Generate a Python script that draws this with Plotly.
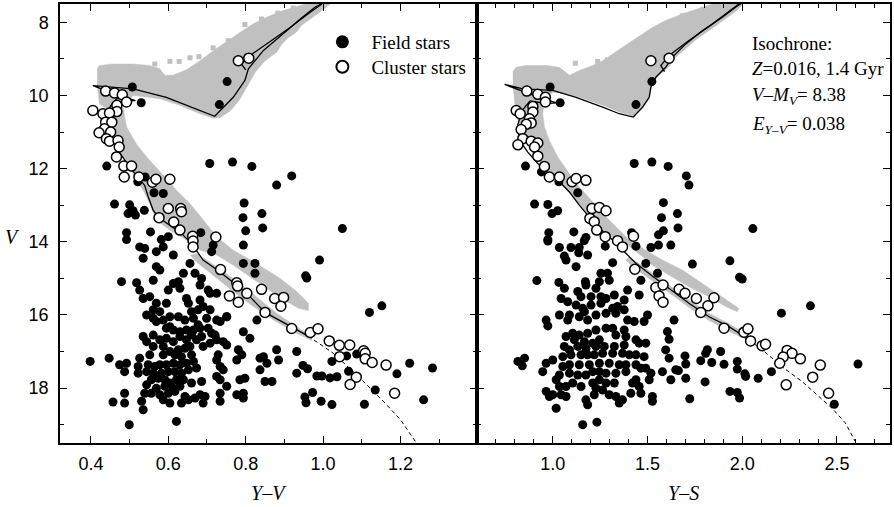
import plotly.graph_objects as go

# ---------------- LEFT PANEL: V vs (Y-V) ----------------
field_left = [
    (0.507, 9.77), (0.530, 10.20), (0.752, 9.62), (0.732, 10.25),
    (0.441, 11.93), (0.707, 11.86), (0.766, 11.82), (0.816, 11.94), (0.919, 12.20), (0.880, 12.45),
    (0.461, 12.97), (0.500, 12.99), (0.496, 13.23), (0.509, 13.15), (0.515, 13.27), (0.538, 13.14),
    (0.540, 12.23), (0.521, 12.36), (0.563, 12.66), (0.587, 12.68),
    (0.492, 13.75), (0.492, 13.94), (0.554, 13.73), (0.582, 13.94), (0.600, 13.86), (0.684, 13.75),
    (0.796, 12.94), (0.793, 13.34), (0.800, 13.70), (0.842, 13.23), (0.844, 13.62), (1.050, 13.64),
    (0.526, 14.14), (0.539, 14.18), (0.535, 14.45), (0.569, 14.27), (0.587, 14.14), (0.613, 14.36),
    (0.569, 14.68), (0.578, 14.77), (0.479, 15.09), (0.518, 15.12), (0.526, 15.32), (0.561, 15.05),
    (0.639, 14.86), (0.656, 14.59), (0.669, 14.86), (0.686, 15.00), (0.682, 15.18), (0.716, 14.09),
    (0.712, 14.27), (0.794, 14.09), (0.794, 14.59), (0.824, 14.59), (0.824, 14.86),
    (0.535, 15.55), (0.552, 15.50), (0.569, 15.68), (0.561, 15.86), (0.578, 15.91), (0.595, 15.68),
    (0.600, 15.32), (0.613, 15.14), (0.626, 15.09), (0.630, 15.27), (0.647, 15.55), (0.652, 15.68),
    (0.682, 15.59), (0.677, 15.86), (0.660, 15.91), (0.703, 15.32), (0.708, 15.41), (0.725, 15.41),
    (0.690, 15.77), (0.708, 15.86), (0.699, 16.09), (0.725, 16.14), (0.734, 16.18), (0.751, 16.05),
    (0.544, 16.00), (0.561, 16.09), (0.569, 16.18), (0.587, 16.14), (0.604, 16.05), (0.626, 16.05),
    (0.643, 16.14), (0.665, 16.09), (0.677, 16.27), (0.604, 16.32), (0.613, 16.41), (0.595, 16.36),
    (0.630, 16.46), (0.647, 16.41), (0.665, 16.41), (0.682, 16.36), (0.703, 16.36), (0.712, 16.50),
    (0.561, 16.55), (0.535, 16.59), (0.544, 16.73), (0.561, 16.86), (0.578, 16.68), (0.595, 16.64),
    (0.613, 16.73), (0.630, 16.59), (0.647, 16.68), (0.660, 16.55), (0.673, 16.68), (0.686, 16.59),
    (0.690, 16.86), (0.708, 16.77), (0.725, 16.68), (0.742, 16.73), (0.751, 16.82), (0.587, 16.86),
    (0.604, 17.00), (0.626, 16.95), (0.643, 16.91), (0.656, 16.86), (0.660, 17.09), (0.634, 17.14),
    (0.617, 17.09), (0.587, 17.09), (0.552, 17.09), (0.526, 17.18), (0.522, 17.41), (0.548, 17.36),
    (0.565, 17.41), (0.578, 17.36), (0.595, 17.36), (0.613, 17.32), (0.630, 17.36), (0.647, 17.32),
    (0.665, 17.27), (0.673, 17.45), (0.652, 17.50), (0.634, 17.59), (0.617, 17.55), (0.600, 17.55),
    (0.582, 17.59), (0.561, 17.59), (0.544, 17.55), (0.522, 17.59), (0.492, 17.32), (0.487, 17.55),
    (0.556, 17.77), (0.574, 17.73), (0.591, 17.77), (0.604, 17.86), (0.621, 17.77), (0.639, 17.77),
    (0.630, 17.95), (0.613, 18.00), (0.591, 17.95), (0.569, 18.00), (0.544, 17.91), (0.539, 18.14),
    (0.556, 18.14), (0.578, 18.18), (0.600, 18.14), (0.617, 18.09), (0.660, 17.86), (0.686, 17.82),
    (0.643, 18.23), (0.634, 18.41), (0.652, 18.32), (0.669, 18.27), (0.682, 18.18), (0.690, 18.41),
    (0.695, 18.23), (0.604, 18.41), (0.587, 18.32), (0.535, 18.59), (0.531, 18.36), (0.487, 18.14),
    (0.487, 18.41), (0.499, 19.00), (0.621, 18.91),
    (0.721, 16.55), (0.729, 17.09), (0.725, 17.23), (0.734, 17.41), (0.742, 17.50), (0.725, 17.68),
    (0.734, 17.77), (0.751, 17.95), (0.734, 18.14), (0.777, 17.23), (0.781, 16.95), (0.790, 17.09),
    (0.785, 17.77), (0.798, 17.73), (0.777, 18.18), (0.794, 18.14), (0.794, 18.27), (0.734, 18.36),
    (0.829, 16.14), (0.794, 16.46), (0.811, 16.64), (0.846, 17.14), (0.837, 17.18), (0.837, 17.50),
    (0.855, 17.32), (0.880, 16.95), (0.885, 17.23), (0.932, 17.00), (0.850, 17.82), (0.868, 17.82),
    (0.932, 17.59), (0.751, 16.05),
    (0.991, 14.50), (0.955, 14.93), (0.958, 14.99), (1.120, 15.93), (1.152, 15.75),
    (1.023, 17.27), (1.061, 17.12), (1.066, 17.54), (1.087, 17.07), (1.036, 17.69), (0.984, 17.67),
    (0.997, 17.67), (1.018, 17.72), (1.224, 17.32), (1.191, 17.61), (1.283, 17.45), (1.135, 18.05),
    (1.260, 18.32), (1.107, 18.44), (1.023, 18.45), (0.995, 18.36), (0.973, 18.12), (0.953, 18.24),
    (0.956, 18.40), (0.948, 17.38), (0.960, 17.47), (0.398, 17.27), (0.447, 17.18), (0.457, 18.38),
    (0.474, 17.36),
]

cluster_left = [
    (0.781, 9.05), (0.808, 8.98), (0.438, 9.88), (0.461, 9.93), (0.481, 9.98), (0.492, 10.18),
    (0.467, 10.27), (0.467, 10.44), (0.405, 10.41), (0.431, 10.50), (0.448, 10.48), (0.438, 10.73),
    (0.454, 10.73), (0.435, 10.91), (0.451, 11.00), (0.421, 11.02), (0.440, 11.18), (0.448, 11.25),
    (0.470, 11.23), (0.473, 11.41), (0.466, 11.68), (0.485, 11.93), (0.505, 11.93), (0.486, 12.23),
    (0.524, 12.23), (0.559, 12.37), (0.568, 12.29), (0.604, 12.29), (0.600, 13.09), (0.632, 13.09),
    (0.634, 13.18), (0.576, 13.34), (0.614, 13.46), (0.630, 13.68), (0.663, 13.85), (0.664, 13.98),
    (0.723, 13.87), (0.664, 14.14), (0.735, 14.76), (0.777, 15.12), (0.779, 15.21), (0.758, 15.48),
    (0.803, 15.41), (0.781, 15.65), (0.841, 15.30), (0.875, 15.55), (0.898, 15.52), (0.891, 15.76),
    (0.850, 15.93), (0.919, 16.37), (0.967, 16.48), (0.987, 16.38), (1.016, 16.71), (1.042, 16.83),
    (1.069, 16.82), (1.043, 17.14), (1.105, 16.98), (1.109, 17.05), (1.109, 17.20), (1.127, 17.30),
    (1.163, 17.37), (1.086, 17.70), (1.070, 17.90), (1.185, 18.14),
]

iso_left_ms = [
    (0.470, 10.05), (0.450, 10.30), (0.440, 10.60), (0.448, 11.05), (0.461, 11.32), (0.479, 11.64),
    (0.500, 11.96), (0.522, 12.23), (0.539, 12.46), (0.548, 12.77), (0.561, 13.14), (0.578, 13.36),
    (0.604, 13.55), (0.634, 13.77), (0.660, 14.05), (0.690, 14.50), (0.733, 14.82), (0.780, 15.20),
    (0.803, 15.41), (0.850, 15.93), (0.920, 16.35), (0.962, 16.58),
]
iso_left_giant = [
    (0.470, 10.05), (0.500, 10.15), (0.515, 10.14), (0.460, 9.95), (0.405, 9.73), (0.509, 9.82),
    (0.595, 10.05), (0.682, 10.41), (0.720, 10.57), (0.768, 10.05), (0.798, 9.59), (0.807, 9.27),
    (0.846, 8.77), (0.906, 8.23), (0.941, 7.91), (0.979, 7.59), (1.005, 7.44),
]
iso_left_agb = [(0.800, 9.30), (0.789, 9.14), (0.811, 8.91), (0.854, 8.59), (0.915, 8.14), (0.966, 7.73), (0.997, 7.50)]
iso_left_dash = [(0.962, 16.58), (1.027, 17.05), (1.096, 17.73), (1.156, 18.36), (1.200, 18.86), (1.241, 19.49)]

band_left_main = [
    (0.416, 9.27), (0.422, 9.18), (0.457, 9.14), (0.509, 9.14), (0.552, 9.18), (0.578, 9.27),
    (0.591, 9.45), (0.612, 9.45), (0.647, 9.30), (0.682, 9.05), (0.716, 8.78), (0.751, 8.52),
    (0.785, 8.28), (0.820, 8.04), (0.854, 7.86), (0.897, 7.68), (0.941, 7.55), (0.984, 7.41),
    (1.030, 7.41), (1.005, 7.62), (0.975, 7.85), (0.945, 8.08), (0.930, 8.28), (0.910, 8.42),
    (0.895, 8.58), (0.880, 8.82), (0.850, 9.05), (0.825, 9.36), (0.805, 9.73), (0.783, 10.14),
    (0.759, 10.43), (0.733, 10.61), (0.716, 10.62), (0.682, 10.50), (0.630, 10.27), (0.578, 10.09),
    (0.535, 10.03), (0.509, 10.00), (0.483, 10.32), (0.492, 10.86), (0.517, 11.32), (0.548, 11.73),
    (0.587, 12.18), (0.621, 12.59), (0.656, 12.95), (0.690, 13.41), (0.725, 13.86), (0.768, 14.23),
    (0.828, 14.59), (0.889, 15.00), (0.932, 15.36), (0.962, 15.68), (0.962, 15.88), (0.936, 15.82),
    (0.897, 15.57), (0.854, 15.27), (0.811, 14.95), (0.768, 14.64), (0.725, 14.36), (0.682, 14.23),
    (0.647, 13.95), (0.604, 13.68), (0.569, 13.41), (0.552, 12.95), (0.535, 12.59), (0.509, 12.14),
    (0.483, 11.68), (0.466, 11.23), (0.457, 10.77), (0.448, 10.41), (0.422, 10.23), (0.416, 9.68),
]
band_left_ms = [
    (0.673, 14.32), (0.725, 14.68), (0.785, 15.14), (0.837, 15.59), (0.880, 15.95), (0.923, 16.27),
    (0.966, 16.55), (0.971, 16.70), (0.923, 16.45), (0.872, 16.14), (0.820, 15.77), (0.768, 15.36),
    (0.716, 14.91), (0.673, 14.55), (0.656, 14.36),
]
squares_left = [
    (0.565, 9.14), (0.604, 9.07), (0.628, 9.07), (0.656, 8.97), (0.679, 8.94), (0.716, 8.70),
    (0.755, 8.50), (0.798, 8.06), (0.841, 7.91), (0.883, 7.75), (0.923, 7.61),
]

# ---------------- RIGHT PANEL: V vs (Y-S) ----------------
field_right = [
    (0.986, 9.77), (1.039, 10.20), (1.523, 9.62), (1.439, 10.25), (0.856, 11.93), (1.430, 11.86),
    (1.523, 11.82), (1.609, 11.94), (1.705, 12.20), (1.719, 12.45), (0.940, 12.09), (1.032, 12.36),
    (1.132, 12.66), (0.904, 12.97), (0.974, 12.98), (0.996, 13.23), (1.026, 13.15), (1.584, 12.93),
    (1.574, 13.34), (1.658, 13.23), (1.661, 13.62), (1.584, 13.70), (2.056, 13.64), (0.979, 13.75),
    (0.974, 13.94), (1.111, 13.73), (1.175, 13.88), (1.166, 13.97), (1.416, 13.75), (1.558, 13.81),
    (1.737, 14.61), (1.935, 14.52), (1.986, 14.97), (2.000, 15.02), (2.360, 15.75), (2.207, 15.95),
    (1.886, 17.00), (1.974, 17.27), (1.974, 17.48), (1.904, 17.35), (1.839, 17.30), (1.781, 17.25),
    (1.816, 16.95), (1.807, 17.05), (1.698, 17.12), (1.702, 17.34), (1.702, 17.73), (1.663, 17.52),
    (1.723, 18.29), (1.804, 17.83), (1.935, 18.09), (1.974, 18.12), (1.986, 18.27), (2.014, 17.61),
    (2.018, 17.68), (2.084, 17.73), (2.154, 17.55), (2.486, 18.44), (2.611, 17.34),
    (0.974, 13.98), (1.035, 14.155), (1.096, 14.155), (1.140, 14.155), (1.137, 14.30), (1.061, 14.39),
    (1.070, 14.50), (1.184, 14.36), (1.123, 14.68), (1.277, 14.12), (1.439, 14.12), (1.518, 14.155),
    (1.558, 14.09), (1.623, 14.09), (1.316, 14.57), (1.491, 14.59), (1.553, 14.86), (1.465, 15.05),
    (0.916, 15.06), (1.032, 15.11), (1.172, 15.09), (1.175, 15.18), (1.254, 14.86), (1.289, 14.86),
    (1.298, 15.05), (1.246, 15.09), (1.228, 15.27), (1.132, 15.36), (1.061, 15.27), (1.044, 15.55),
    (1.079, 15.64), (1.149, 15.50), (1.202, 15.50), (1.254, 15.50), (1.281, 15.55), (1.377, 15.59),
    (1.325, 15.455), (1.395, 15.32), (1.456, 15.455), (1.123, 15.73), (1.158, 15.82), (1.202, 15.73),
    (1.254, 15.68), (1.316, 15.82), (1.342, 15.77), (1.167, 15.91), (1.140, 16.05), (1.035, 16.00),
    (1.088, 16.00), (0.965, 16.14), (0.974, 16.30), (1.079, 16.14), (1.184, 16.14), (1.228, 16.00),
    (1.281, 15.955), (1.333, 15.955), (1.377, 15.86), (1.395, 16.14), (1.430, 16.18), (1.482, 16.18),
    (1.500, 16.00), (1.640, 16.14), (1.605, 16.455), (1.614, 16.665), (1.596, 16.955), (1.614, 17.18),
    (1.579, 17.55), (1.623, 17.77), (1.649, 17.50),
    (1.070, 16.59), (1.105, 16.50), (1.140, 16.55), (1.184, 16.50), (1.228, 16.41), (1.281, 16.36),
    (1.316, 16.36), (1.377, 16.41), (1.386, 16.59), (1.333, 16.55), (1.246, 16.68), (1.211, 16.77),
    (1.167, 16.73), (1.114, 16.68), (1.061, 16.86), (1.088, 16.955), (1.132, 16.86), (1.175, 16.91),
    (1.228, 16.86), (1.272, 16.86), (1.325, 16.86), (1.377, 16.82), (1.439, 16.68), (1.456, 16.77),
    (1.491, 16.77), (1.482, 17.14), (1.439, 17.09), (1.404, 17.09), (1.368, 17.05), (1.316, 17.05),
    (1.263, 17.05), (1.219, 17.09), (1.184, 17.09), (1.149, 17.09), (1.096, 17.09), (1.053, 17.14),
    (1.000, 17.23), (0.965, 17.32), (0.947, 17.55), (1.053, 17.41), (1.088, 17.36), (1.140, 17.36),
    (1.193, 17.36), (1.246, 17.32), (1.298, 17.32), (1.351, 17.36), (1.386, 17.36), (1.439, 17.36),
    (1.465, 17.455), (1.491, 17.455), (1.518, 17.59), (1.509, 17.77), (1.456, 17.955), (1.439, 17.77),
    (1.421, 17.86), (1.386, 17.55), (1.333, 17.59), (1.281, 17.59), (1.246, 17.55), (1.211, 17.55),
    (1.175, 17.64), (1.132, 17.64), (1.088, 17.59), (1.035, 17.64), (1.018, 17.77), (1.035, 17.955),
    (1.070, 17.955), (1.105, 17.86), (1.149, 17.955), (1.211, 17.86), (1.246, 17.77), (1.281, 17.86),
    (1.325, 17.86), (1.228, 18.00), (1.263, 18.05), (1.219, 18.18), (1.298, 18.18), (1.333, 18.23),
    (1.368, 18.32), (1.351, 18.41), (1.175, 18.32), (1.184, 18.455), (1.070, 18.23), (1.044, 18.18),
    (1.000, 18.18), (0.965, 18.09), (1.018, 18.55), (1.412, 18.14), (1.465, 18.14), (1.526, 18.23),
    (1.526, 18.36), (1.158, 19.00), (1.233, 18.93), (0.816, 17.27), (0.851, 17.18), (0.839, 17.39),
    (0.982, 18.23),
]

cluster_right = [
    (1.518, 9.05), (1.614, 8.98), (0.863, 9.88), (0.921, 9.97), (0.961, 10.05), (0.961, 10.18),
    (0.895, 10.30), (0.895, 10.45), (0.807, 10.41), (0.828, 10.50), (0.877, 10.64), (0.886, 10.75),
    (0.860, 10.79), (0.833, 10.93), (0.842, 11.18), (0.816, 11.35), (0.886, 11.25), (0.921, 11.30),
    (0.904, 11.41), (0.921, 11.66), (0.956, 11.94), (0.982, 12.23), (1.035, 12.23), (1.102, 12.36),
    (1.123, 12.27), (1.175, 12.32), (1.207, 13.09), (1.246, 13.06), (1.281, 13.15), (1.196, 13.36),
    (1.219, 13.45), (1.232, 13.68), (1.277, 13.86), (1.342, 13.97), (1.368, 14.14), (1.426, 13.85),
    (1.433, 14.75), (1.544, 15.25), (1.582, 15.18), (1.561, 15.48), (1.582, 15.65), (1.667, 15.30),
    (1.698, 15.41), (1.758, 15.55), (1.851, 15.53), (1.819, 15.75), (1.781, 15.93), (1.904, 16.36),
    (2.009, 16.47), (2.030, 16.38), (2.044, 16.71), (2.105, 16.84), (2.123, 16.80), (2.237, 16.97),
    (2.263, 17.05), (2.307, 17.20), (2.216, 17.15), (2.198, 17.32), (2.412, 17.37), (2.372, 17.70),
    (2.232, 17.91), (2.456, 18.14),
]

iso_right_ms = [
    (0.880, 10.15), (0.840, 10.40), (0.815, 10.80), (0.825, 11.23), (0.868, 11.55), (0.921, 11.86),
    (0.991, 12.18), (1.035, 12.36), (1.088, 12.64), (1.140, 13.00), (1.184, 13.27), (1.237, 13.59),
    (1.298, 13.86), (1.351, 14.14), (1.439, 14.59), (1.518, 14.91), (1.614, 15.27), (1.719, 15.68),
    (1.825, 16.05), (1.930, 16.32), (2.000, 16.55),
]
iso_right_giant = [
    (0.880, 10.15), (0.960, 10.22), (1.020, 10.20), (0.900, 10.00), (0.746, 9.70), (0.842, 9.82),
    (1.000, 9.86), (1.123, 10.05), (1.263, 10.32), (1.351, 10.50), (1.425, 10.59), (1.474, 10.32),
    (1.509, 10.05), (1.518, 9.77), (1.544, 9.50), (1.596, 9.23), (1.632, 8.95), (1.702, 8.59),
    (1.789, 8.23), (1.895, 7.86), (1.965, 7.59), (1.996, 7.48),
]
iso_right_agb = [(1.590, 9.35), (1.570, 9.18), (1.614, 8.91), (1.719, 8.50), (1.842, 8.05), (1.947, 7.64), (1.982, 7.50)]
iso_right_dash = [(2.000, 16.55), (2.105, 16.95), (2.219, 17.45), (2.316, 17.82), (2.474, 18.55), (2.544, 18.95), (2.596, 19.45)]

band_right_main = [
    (0.789, 9.36), (0.807, 9.23), (0.860, 9.18), (0.965, 9.18), (1.035, 9.23), (1.070, 9.36),
    (1.088, 9.45), (1.140, 9.32), (1.211, 9.18), (1.263, 9.05), (1.316, 8.86), (1.368, 8.68),
    (1.421, 8.50), (1.474, 8.32), (1.526, 8.14), (1.596, 7.95), (1.684, 7.77), (1.789, 7.59),
    (1.895, 7.41), (2.020, 7.41), (1.970, 7.68), (1.900, 7.95), (1.815, 8.27), (1.750, 8.50),
    (1.710, 8.68), (1.650, 8.95), (1.610, 9.23), (1.550, 9.50), (1.520, 9.77), (1.509, 10.09),
    (1.474, 10.36), (1.430, 10.57), (1.351, 10.45), (1.263, 10.27), (1.140, 10.05), (1.070, 9.95),
    (1.000, 9.91), (0.956, 10.14), (0.947, 10.50), (0.956, 10.86), (0.982, 11.23), (1.026, 11.68),
    (1.088, 12.14), (1.140, 12.50), (1.202, 12.86), (1.263, 13.23), (1.333, 13.59), (1.404, 13.95),
    (1.491, 14.23), (1.579, 14.50), (1.684, 14.77), (1.789, 15.14), (1.895, 15.50), (1.982, 15.82),
    (1.974, 15.91), (1.912, 15.77), (1.825, 15.50), (1.719, 15.23), (1.614, 14.91), (1.526, 14.64),
    (1.474, 14.41), (1.386, 14.05), (1.298, 13.82), (1.228, 13.59), (1.175, 13.23), (1.123, 12.86),
    (1.061, 12.50), (1.000, 12.18), (0.939, 11.86), (0.895, 11.59), (0.851, 11.23), (0.825, 10.86),
    (0.807, 10.50), (0.798, 10.14), (0.789, 9.68),
]
band_right_ms = [
    (1.404, 14.41), (1.518, 14.82), (1.614, 15.18), (1.719, 15.59), (1.825, 15.95), (1.930, 16.24),
    (2.018, 16.50), (2.018, 16.66), (1.930, 16.45), (1.825, 16.15), (1.719, 15.79), (1.614, 15.39),
    (1.518, 15.03), (1.421, 14.68), (1.386, 14.50),
]
squares_right = [
    (1.119, 9.12), (1.237, 9.07), (1.289, 9.03), (1.333, 8.94), (1.389, 8.77), (1.465, 8.55),
    (1.596, 8.06), (1.684, 7.82), (1.789, 7.66),
]

left_ticks_x = dict(range=[0.32, 1.398], tick0=0.4, dtick=0.2, minor_dtick=0.1)
right_ticks_x = dict(range=[0.6, 2.78], tick0=1.0, dtick=0.5, minor_dtick=0.1)
v_range = [19.5, 7.5]

GRAY = "#c0c0c0"
SERIF = "Liberation Serif"
SANS = "Liberation Sans"


def xs(pts):
    return [p[0] for p in pts]


def ys(pts):
    return [p[1] for p in pts]


fig = go.Figure()

for (xa, ya, main, ms, sq, giant, agb, msl, dash, field, cluster) in [
    ("x", "y", band_left_main, band_left_ms, squares_left, iso_left_giant, iso_left_agb,
     iso_left_ms, iso_left_dash, field_left, cluster_left),
    ("x2", "y2", band_right_main, band_right_ms, squares_right, iso_right_giant, iso_right_agb,
     iso_right_ms, iso_right_dash, field_right, cluster_right),
]:
    for poly in (main, ms):
        fig.add_trace(go.Scatter(x=xs(poly), y=ys(poly), mode="lines", fill="toself",
                                 fillcolor=GRAY, line=dict(color=GRAY, width=0.5),
                                 xaxis=xa, yaxis=ya, showlegend=False, hoverinfo="skip"))
    fig.add_trace(go.Scatter(x=xs(sq), y=ys(sq), mode="markers",
                             marker=dict(symbol="square", size=5, color=GRAY),
                             xaxis=xa, yaxis=ya, showlegend=False, hoverinfo="skip"))
    for ln in (giant, agb, msl):
        fig.add_trace(go.Scatter(x=xs(ln), y=ys(ln), mode="lines",
                                 line=dict(color="black", width=1.3),
                                 xaxis=xa, yaxis=ya, showlegend=False, hoverinfo="skip"))
    fig.add_trace(go.Scatter(x=xs(dash), y=ys(dash), mode="lines",
                             line=dict(color="black", width=1, dash="4px,3px"),
                             xaxis=xa, yaxis=ya, showlegend=False, hoverinfo="skip"))
    fig.add_trace(go.Scatter(x=xs(field), y=ys(field), mode="markers",
                             marker=dict(size=9, color="black", line=dict(width=0)),
                             xaxis=xa, yaxis=ya, showlegend=False))
    fig.add_trace(go.Scatter(x=xs(cluster), y=ys(cluster), mode="markers",
                             marker=dict(size=10, color="white", line=dict(color="black", width=1.5)),
                             xaxis=xa, yaxis=ya, showlegend=False))

# legend entries (one legend per row so rows can be spaced as in the reference)
fig.add_trace(go.Scatter(x=[None], y=[None], mode="markers", name="Field stars",
                         marker=dict(size=13, color="black"), xaxis="x", yaxis="y",
                         legend="legend"))
fig.add_trace(go.Scatter(x=[None], y=[None], mode="markers", name="Cluster stars",
                         marker=dict(size=12, color="white", line=dict(color="black", width=2)),
                         xaxis="x", yaxis="y", legend="legend2"))

axis_common = dict(showline=True, linecolor="black", linewidth=1.5, mirror="allticks",
                   ticks="inside", ticklen=7, tickwidth=1.2, tickcolor="black",
                   showgrid=False, zeroline=False,
                   tickfont=dict(family=SANS, size=18, color="black"))

SPLIT = (478 - 60) / 832


def px_x(p):
    return (p - 60) / 832


def px_y(p):
    return (443 - p) / 440


legend_common = dict(xanchor="left", yanchor="top", bgcolor="rgba(0,0,0,0)", itemwidth=48,
                     font=dict(family=SERIF, size=19, color="black"))

fig.update_layout(
    width=894, height=507,
    margin=dict(l=60, r=2, t=3, b=64),
    paper_bgcolor="white", plot_bgcolor="white",
    xaxis=dict(domain=[0, SPLIT], range=left_ticks_x["range"], tick0=left_ticks_x["tick0"],
               dtick=left_ticks_x["dtick"], tickformat=".1f", anchor="y",
               minor=dict(dtick=left_ticks_x["minor_dtick"], ticks="inside", ticklen=4, tickcolor="black"),
               ticklabelstandoff=4, **axis_common),
    xaxis2=dict(domain=[SPLIT, 1], range=right_ticks_x["range"], tick0=right_ticks_x["tick0"],
                dtick=right_ticks_x["dtick"], tickformat=".1f", anchor="y2",
                minor=dict(dtick=right_ticks_x["minor_dtick"], ticks="inside", ticklen=4, tickcolor="black"),
                ticklabelstandoff=4, **axis_common),
    yaxis=dict(range=v_range, tick0=8, dtick=2, anchor="x",
               minor=dict(dtick=1, ticks="inside", ticklen=4, tickcolor="black"),
               ticklabelstandoff=6, **axis_common),
    yaxis2=dict(range=v_range, tick0=8, dtick=2, anchor="x2", matches="y", showticklabels=False,
                minor=dict(dtick=1, ticks="inside", ticklen=4, tickcolor="black"),
                **axis_common),
    showlegend=True,
    legend=dict(x=px_x(314), y=px_y(22), **legend_common),
    legend2=dict(x=px_x(314), y=px_y(47), **legend_common),
)

ann_font = dict(family=SERIF, size=19, color="black")
annotations = [
    dict(text="<i>V</i>", x=px_x(12), y=px_y(237), font=dict(family=SERIF, size=20, color="black")),
    dict(text="<i>Y</i>–<i>V</i>", x=px_x(270), y=px_y(493), font=dict(family=SERIF, size=20, color="black")),
    dict(text="<i>Y</i>–<i>S</i>", x=px_x(685), y=px_y(493), font=dict(family=SERIF, size=20, color="black")),
    dict(text="Isochrone:", x=px_x(752), y=px_y(43), xanchor="left", font=ann_font),
    dict(text="<i>Z</i>=0.016, 1.4 Gyr", x=px_x(752), y=px_y(68), xanchor="left", font=ann_font),
    dict(text="<i>V</i>–<i>M</i><sub><i>V</i></sub>= 8.38", x=px_x(752), y=px_y(95), xanchor="left", font=ann_font),
    dict(text="<i>E</i><sub><i>Y–V</i></sub>= 0.038", x=px_x(752), y=px_y(124), xanchor="left", font=ann_font),
]
for a in annotations:
    a.setdefault("xanchor", "center")
    fig.add_annotation(xref="paper", yref="paper", showarrow=False, yanchor="middle", **a)

fig.write_html("out.html", config={"displayModeBar": False},
               post_script="document.body.style.margin='0';document.body.style.overflow='hidden';")
